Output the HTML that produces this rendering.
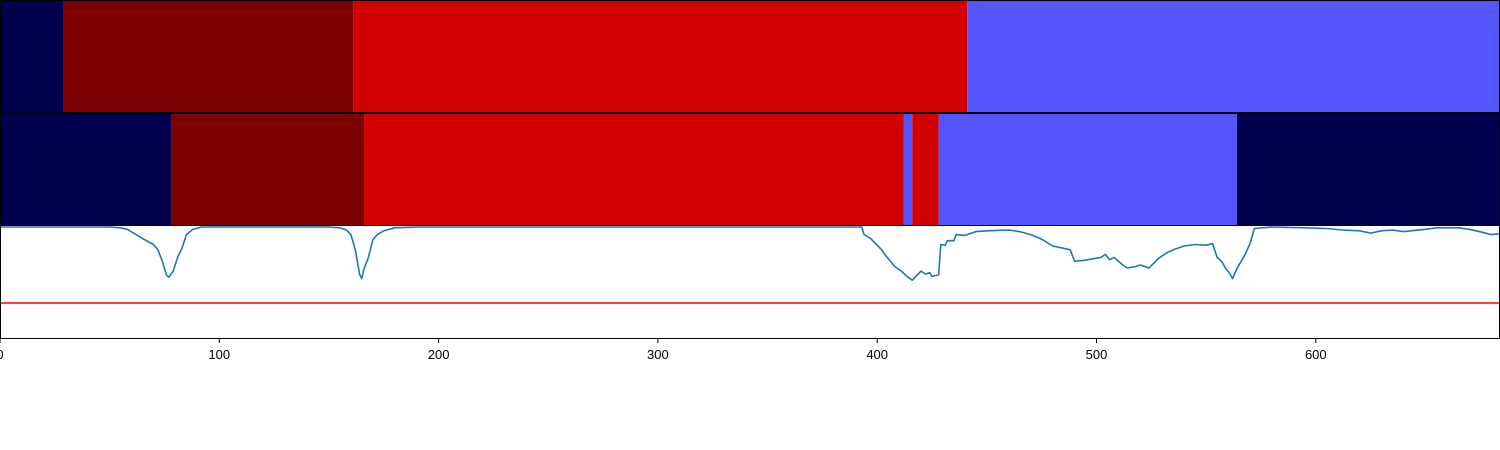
<!DOCTYPE html>
<html><head><meta charset="utf-8"><style>
html,body{margin:0;padding:0;background:#fff;width:1500px;height:450px;overflow:hidden}
svg{display:block;font-family:"Liberation Sans",sans-serif}
</style></head><body>
<svg id="chart" width="1500" height="450" viewBox="0 0 1500 450"></svg>
<script>
// ---- data ----
const row1Starts = [0, 29, 161, 441];
const row1Ends   = [29, 161, 441, 684];
const row1Labels = ['navy', 'darkred', 'red', 'blue'];
const row2Starts = [0, 78, 166, 412, 416, 428, 564];
const row2Ends   = [78, 166, 412, 416, 428, 564, 684];
const row2Labels = ['navy', 'darkred', 'red', 'blue', 'red', 'blue', 'navy'];
const lineT = [0,50,55,58,62,65,68,70,72,74,76,77,79,81,83,85,88,92,150,155,158,160,162,164,165,166,168,170,172,175,180,190,393,394,397,400,402,404,406,408,411,414,416,418,420,422,424,425,428,429,431,432,435,436,440,445,450,460,465,470,475,480,485,488,490,494,498,502,504,506,508,512,514,518,520,524,528,532,536,540,545,550,553,555,557,559,561,562,564,566,568,570,572,580,595,605,612,620,625,630,635,640,650,655,665,670,676,680,684];
const lineV = [1,1,0.99,0.97,0.9,0.85,0.8,0.77,0.7,0.55,0.36,0.34,0.42,0.6,0.72,0.9,0.97,1,1,0.99,0.96,0.9,0.7,0.38,0.32,0.45,0.6,0.83,0.9,0.95,0.99,1,1,0.9,0.85,0.76,0.7,0.62,0.55,0.48,0.42,0.34,0.30,0.36,0.42,0.38,0.4,0.35,0.37,0.77,0.76,0.82,0.82,0.9,0.89,0.94,0.95,0.96,0.94,0.9,0.84,0.75,0.72,0.7,0.55,0.56,0.58,0.6,0.64,0.57,0.6,0.5,0.46,0.48,0.5,0.46,0.58,0.66,0.71,0.75,0.77,0.76,0.78,0.6,0.55,0.45,0.38,0.32,0.45,0.55,0.65,0.78,0.98,1,0.99,0.98,0.96,0.95,0.92,0.95,0.96,0.94,0.97,0.99,0.99,0.97,0.93,0.9,0.91];
const threshold = 0;
const xTicks = [0,100,200,300,400,500,600];
const xTickLabels = ['0','100','200','300','400','500','600'];

// ---- scales ----
const colorMap = {navy:'#00004c', darkred:'#7c0000', red:'#d20000', blue:'#5555ff'};
const xMax = 684;
const X = t => t / xMax * 1500;
const Y = v => 303 - v * 76;
const NS = 'http://www.w3.org/2000/svg';
const svg = document.getElementById('chart');
function mk(tag, attrs){const e=document.createElementNS(NS,tag);for(const k in attrs)e.setAttribute(k,attrs[k]);svg.appendChild(e);return e;}

function drawRow(starts, ends, labels, y0, h, rowName){
  for(let i=0;i<starts.length;i++){
    const r = mk('rect',{x:X(starts[i]),y:y0,width:X(ends[i])-X(starts[i]),height:h,fill:colorMap[labels[i]]});
    
    
  }
  const f = mk('rect',{x:0.5,y:y0+0.5,width:1499,height:h-1,fill:'none',stroke:'#000','stroke-width':1});
  
  
}
drawRow(row1Starts,row1Ends,row1Labels,0,113,'top-row');
drawRow(row2Starts,row2Ends,row2Labels,113,113,'second-row');

// line axes
const th = mk('line',{x1:0,x2:1500,y1:Y(threshold),y2:Y(threshold),stroke:'#ff0000','stroke-width':1.5});


let d='';
for(let i=0;i<lineT.length;i++) d += (i?'L':'M') + X(lineT[i]).toFixed(1) + ',' + Y(lineV[i]).toFixed(1);
const p = mk('path',{d:d,fill:'none',stroke:'#1f77b4','stroke-width':1.6,'stroke-linejoin':'round'});


const spL = mk('line',{x1:0.5,x2:0.5,y1:226,y2:338,stroke:'#000','stroke-width':1});


const spR = mk('line',{x1:1499.5,x2:1499.5,y1:226,y2:338,stroke:'#000','stroke-width':1});


const spB = mk('line',{x1:0,x2:1500,y1:338.5,y2:338.5,stroke:'#000','stroke-width':1});


for(let i=0;i<xTicks.length;i++){
  const x = X(xTicks[i]);
  const tk = mk('line',{x1:x,x2:x,y1:338,y2:343,stroke:'#000','stroke-width':1});
  
  
  const tx = mk('text',{x:x,y:359,'text-anchor':'middle','font-size':13,fill:'#000'});
  tx.textContent = xTickLabels[i];
  
  
}
</script>
</body></html>
